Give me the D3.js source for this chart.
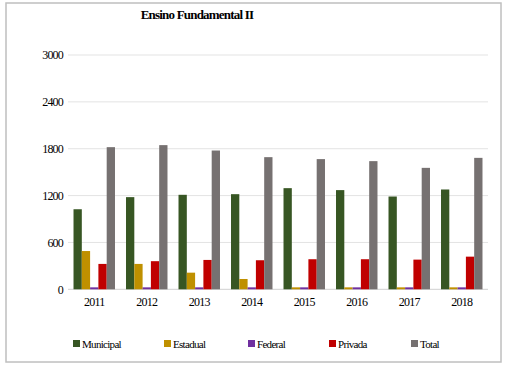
<!DOCTYPE html>
<html>
<head>
<meta charset="utf-8">
<script src="https://cdn.jsdelivr.net/npm/d3@7"></script>
<style>
  body { margin: 0; background: #fff; }
  svg text { font-family: "Liberation Serif", "Times New Roman", serif !important; fill: #000; }
</style>
</head>
<body>
<svg id="chart"></svg>
<script>
// data
var years = ['2011', '2012', '2013', '2014', '2015', '2016', '2017', '2018'];
var seriesNames = ['Municipal', 'Estadual', 'Federal', 'Privada', 'Total'];
var municipal = [1025, 1180, 1210, 1218, 1295, 1270, 1188, 1278];
var estadual  = [490, 325, 213, 132, 25, 25, 25, 25];
var federal   = [25, 25, 25, 25, 25, 25, 25, 25];
var privada   = [325, 360, 376, 372, 385, 385, 380, 418];
var total     = [1820, 1846, 1777, 1692, 1667, 1641, 1555, 1683];
var yTicks = [0, 600, 1200, 1800, 2400, 3000];
var colors = ['#375623', '#bf9000', '#7030a0', '#c00000', '#767171'];

var values = [municipal, estadual, federal, privada, total];

var width = 508, height = 367;
var svg = d3.select('#chart').attr('width', width).attr('height', height);

// outer frame
svg.append('rect')
  .attr('x', 6).attr('y', 3)
  .attr('width', 495).attr('height', 359)
  .attr('fill', 'none')
  .attr('stroke', '#bfbfbf')
  .attr('stroke-width', 1.5);

// title
svg.append('text')
  .attr('x', 197).attr('y', 19)
  .attr('text-anchor', 'middle')
  .attr('font-size', 13)
  .attr('font-weight', 'bold')
  .attr('letter-spacing', -0.8)
  .text('Ensino Fundamental II');

var x0 = d3.scaleBand().domain(years).range([68, 488]).paddingInner(0.21).paddingOuter(0.105);
var x1 = d3.scaleBand().domain(seriesNames).range([0, x0.bandwidth()]);
var y = d3.scaleLinear().domain([0, 3000]).range([289.3, 55]);

// grid
svg.append('g')
  .selectAll('line').data(yTicks)
  .enter().append('line')
  .attr('x1', 68).attr('x2', 488)
  .attr('y1', function(d) { return y(d); })
  .attr('y2', function(d) { return y(d); })
  .attr('stroke', function(d) { return d === 0 ? '#d0d0d0' : '#e3e3e3'; })
  .attr('stroke-width', 1);

// y labels
var yAxis = d3.axisLeft(y).tickValues(yTicks).tickSize(0).tickPadding(5).tickFormat(d3.format('d'));
var yg = svg.append('g').attr('transform', 'translate(68,0)').call(yAxis);
yg.select('.domain').remove();
yg.selectAll('text')
  .attr('font-size', 12)
  .attr('letter-spacing', -0.8);

// x labels
var xAxis = d3.axisBottom(x0).tickSize(0).tickPadding(8);
var xg = svg.append('g').attr('transform', 'translate(0,289.3)').call(xAxis);
xg.select('.domain').remove();
xg.selectAll('text')
  .attr('font-size', 12)
  .attr('letter-spacing', -0.8);

// bars
var groups = svg.append('g').selectAll('g').data(years)
  .enter().append('g')
  .attr('transform', function(d) { return 'translate(' + x0(d) + ',0)'; });

groups.selectAll('rect')
  .data(function(d, i) {
    return seriesNames.map(function(s, j) { return { key: s, value: values[j][i], c: colors[j] }; });
  })
  .enter().append('rect')
  .attr('x', function(d) { return x1(d.key); })
  .attr('width', x1.bandwidth())
  .attr('y', function(d) { return y(d.value); })
  .attr('height', function(d) { return y(0) - y(d.value); })
  .attr('fill', function(d) { return d.c; });

// legend
var legendX = [73, 164, 248, 329, 411];
var legend = svg.append('g').selectAll('g').data(seriesNames)
  .enter().append('g')
  .attr('transform', function(d, i) { return 'translate(' + legendX[i] + ',340)'; });
legend.append('rect')
  .attr('width', 7).attr('height', 7)
  .attr('fill', function(d, i) { return colors[i]; });
legend.append('text')
  .attr('x', 9).attr('y', 7.5)
  .attr('font-size', 11)
  .attr('letter-spacing', -0.7)
  .text(function(d) { return d; });
</script>
</body>
</html>
